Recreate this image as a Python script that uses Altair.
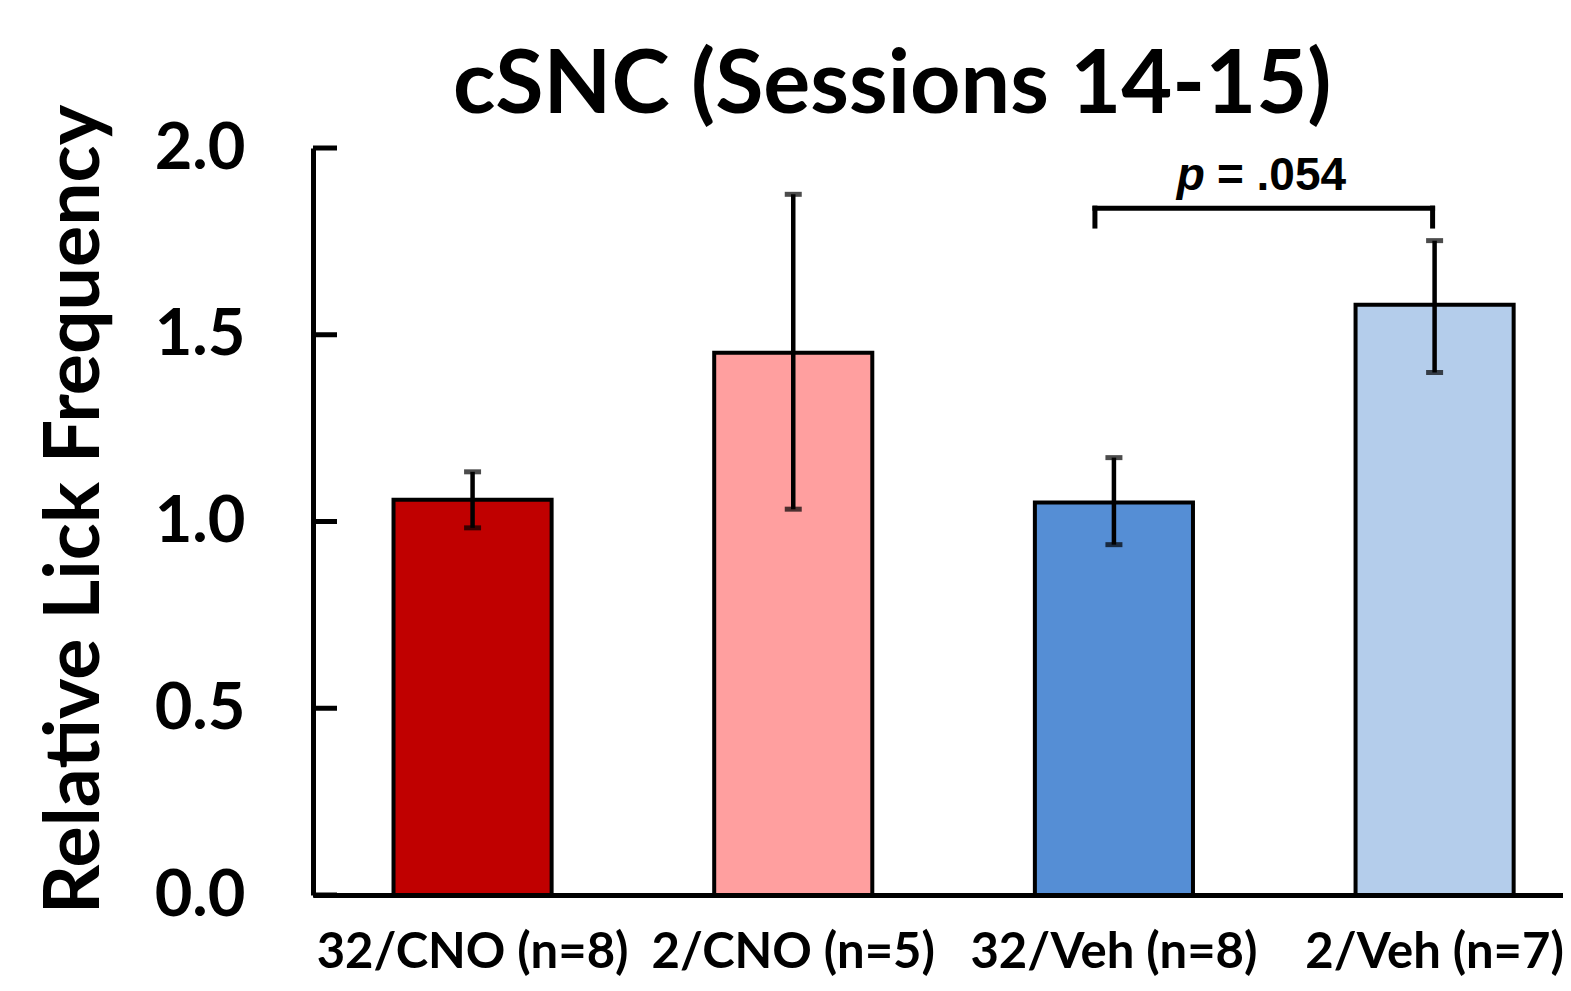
import altair as alt
import pandas as pd

groups = ["32/CNO (n=8)", "2/CNO (n=5)", "32/Veh (n=8)", "2/Veh (n=7)"]
means = [1.058, 1.452, 1.051, 1.580]
err_hi = [1.133, 1.876, 1.171, 1.752]
err_lo = [0.983, 1.033, 0.938, 1.399]
colors = ["#C00000", "#FF9F9F", "#558ED5", "#B4CDEB"]
y_ticks = [0.0, 0.5, 1.0, 1.5, 2.0]

title_text = "cSNC (Sessions 14-15)"

# significance bracket between groups 3 and 4
bracket_left = "32/Veh (n=8)"
bracket_right = "2/Veh (n=7)"
bracket_top = 1.839
bracket_bottom = 1.791
p_label_y = 1.888
p_symbol = "p"
p_value_text = "= .054"

df = pd.DataFrame({"group": groups, "mean": means, "hi": err_hi, "lo": err_lo})
ticks_df = pd.DataFrame({"tick": y_ticks})

LATO = "Lato"
ARIAL = "Liberation Sans"

x_scale = alt.Scale(domain=groups, paddingInner=0.507, paddingOuter=0.2025, align=0.62)
y_scale = alt.Scale(domain=[0, 2], nice=False, zero=True)

x_enc = alt.X(
    "group:N",
    scale=x_scale,
    sort=groups,
    axis=alt.Axis(
        title=None,
        labelAngle=0,
        labelFont=LATO,
        labelFontWeight="bold",
        labelFontSize=49,
        labelColor="black",
        labelBaseline="alphabetic",
        labelPadding=72,
        labelLimit=1000,
        ticks=False,
        tickSize=0,
        domain=True,
        domainColor="black",
        domainWidth=5,
        labelOverlap=False,
        grid=False,
    ),
)

y_enc = alt.Y(
    "mean:Q",
    scale=y_scale,
    axis=alt.Axis(
        title="Relative Lick Frequency",
        values=y_ticks,
        format=".1f",
        labelFont=LATO,
        labelFontWeight="bold",
        labelFontSize=65,
        labelColor="black",
        labelPadding=68,
        ticks=False,
        tickSize=0,
        grid=False,
        domain=True,
        domainColor="black",
        domainWidth=5,
        titleFont=LATO,
        titleFontWeight="bold",
        titleFontSize=77,
        titleColor="black",
        titleAngle=270,
        titleX=-215,
        titleY=361,
        titleAlign="center",
        titleBaseline="alphabetic",
    ),
)

bars = alt.Chart(df).mark_bar(stroke="black", strokeWidth=4).encode(
    x=x_enc,
    y=y_enc,
    color=alt.Color("group:N", scale=alt.Scale(domain=groups, range=colors), legend=None),
)

inner_ticks = alt.Chart(ticks_df).mark_rule(color="black", strokeWidth=5).encode(
    y=alt.Y("tick:Q", scale=y_scale),
    x=alt.value(0),
    x2=alt.value(24),
)

err_rule = alt.Chart(df).mark_rule(color="black", strokeWidth=4.5).encode(
    x=alt.X("group:N", scale=x_scale, sort=groups),
    y=alt.Y("lo:Q", scale=y_scale),
    y2="hi:Q",
)

cap_hi = alt.Chart(df).mark_tick(color="black", size=17, thickness=5).encode(
    x=alt.X("group:N", scale=x_scale, sort=groups),
    y=alt.Y("hi:Q", scale=y_scale),
)
cap_lo = alt.Chart(df).mark_tick(color="black", size=17, thickness=5).encode(
    x=alt.X("group:N", scale=x_scale, sort=groups),
    y=alt.Y("lo:Q", scale=y_scale),
)

br_df = pd.DataFrame({"l": [bracket_left], "r": [bracket_right], "top": [bracket_top], "bot": [bracket_bottom]})

leg_left = alt.Chart(br_df).mark_rule(color="black", strokeWidth=5, xOffset=-19, strokeCap="square").encode(
    x=alt.X("l:N", scale=x_scale, sort=groups),
    y=alt.Y("bot:Q", scale=y_scale),
    y2="top:Q",
)
leg_right = alt.Chart(br_df).mark_rule(color="black", strokeWidth=5, xOffset=-2, strokeCap="square").encode(
    x=alt.X("r:N", scale=x_scale, sort=groups),
    y=alt.Y("bot:Q", scale=y_scale),
    y2="top:Q",
)
br_top = alt.Chart(br_df).mark_rule(color="black", strokeWidth=5, xOffset=-19, x2Offset=-2, strokeCap="square").encode(
    x=alt.X("l:N", scale=x_scale, sort=groups),
    x2="r:N",
    y=alt.Y("top:Q", scale=y_scale),
)

txt_df = pd.DataFrame({"g": [bracket_left], "y": [p_label_y], "p": [p_symbol], "v": [p_value_text]})
p_txt = alt.Chart(txt_df).mark_text(
    font=ARIAL, fontWeight="bold", fontStyle="italic", fontSize=46, align="right",
    baseline="alphabetic", dx=91, color="black"
).encode(
    x=alt.X("g:N", scale=x_scale, sort=groups),
    y=alt.Y("y:Q", scale=y_scale),
    text="p:N",
)
v_txt = alt.Chart(txt_df).mark_text(
    font=ARIAL, fontWeight="bold", fontSize=46, align="left",
    baseline="alphabetic", dx=103, color="black"
).encode(
    x=alt.X("g:N", scale=x_scale, sort=groups),
    y=alt.Y("y:Q", scale=y_scale),
    text="v:N",
)

title_df = pd.DataFrame({"g": [groups[1]], "y": [y_ticks[-1]], "t": [title_text]})
title_txt = alt.Chart(title_df).mark_text(
    font=LATO, fontWeight="bold", fontSize=88, align="center",
    baseline="alphabetic", dx=99, dy=-35, color="black"
).encode(
    x=alt.X("g:N", scale=x_scale, sort=groups),
    y=alt.Y("y:Q", scale=y_scale),
    text="t:N",
)

chart = alt.layer(
    bars, err_rule, cap_hi, cap_lo, inner_ticks, leg_left, leg_right, br_top, p_txt, v_txt, title_txt
).properties(
    width=1250,
    height=747,
    autosize=alt.AutoSizeParams(type="none"),
    padding={"left": 305, "top": 140, "right": 0, "bottom": 84},
    background="white",
).configure_view(strokeWidth=0, stroke="transparent")

chart.save("out.html", embed_options={"renderer": "svg", "actions": False})
